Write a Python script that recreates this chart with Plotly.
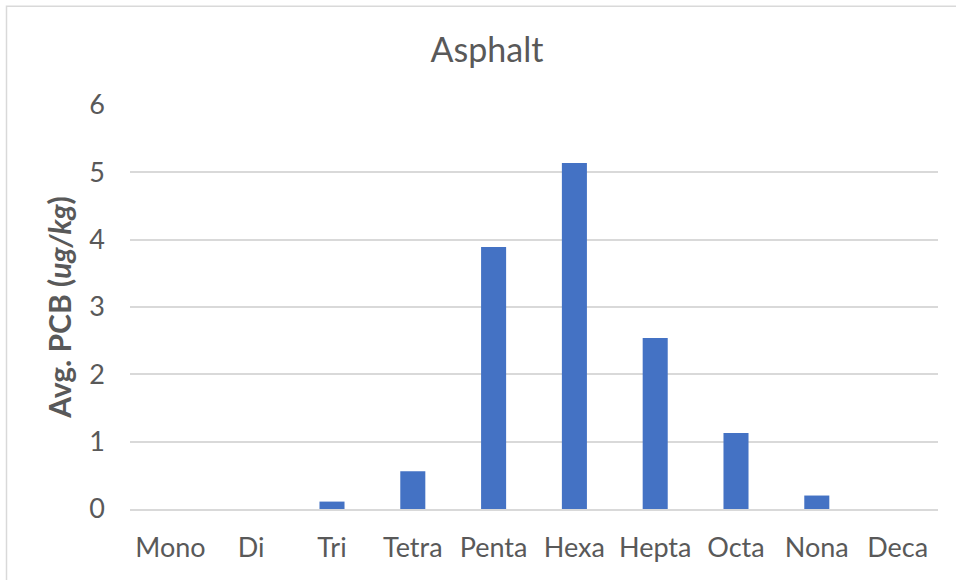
import plotly.graph_objects as go

categories = ["Mono", "Di", "Tri", "Tetra", "Penta", "Hexa", "Hepta", "Octa", "Nona", "Deca"]
avg_pcb = [0, 0, 0.11, 0.56, 3.89, 5.14, 2.54, 1.13, 0.20, 0]
y_ticks = [0, 1, 2, 3, 4, 5, 6]

W, H = 956, 580
L, R, T, B = 130, 18, 104.5, 70.5
pw, ph = W - L - R, H - T - B

def px(x):
    return (x - L) / pw

def py(y):
    return (H - B - y) / ph

text_color = "#595959"
grid_color = "#D9D9D9"
font_family = "Lato, Carlito, Calibri, sans-serif"

fig = go.Figure(
    go.Bar(
        x=categories,
        y=avg_pcb,
        marker=dict(color="#4472C4", line=dict(width=0)),
        hoverinfo="x+y",
    )
)

fig.update_layout(
    width=W,
    height=H,
    margin=dict(l=L, r=R, t=T, b=B, autoexpand=False),
    paper_bgcolor="white",
    plot_bgcolor="white",
    bargap=0.69,
    showlegend=False,
    font=dict(family=font_family, color=text_color),
    title=dict(
        text="Asphalt",
        x=487 / W,
        xanchor="center",
        y=1 - 50 / H,
        yanchor="middle",
        font=dict(size=34, color=text_color, family=font_family),
    ),
    xaxis=dict(
        showgrid=False,
        showline=True,
        linecolor=grid_color,
        linewidth=1.5,
        ticks="",
        tickfont=dict(size=27, color=text_color),
        ticklabelstandoff=14,
    ),
    yaxis=dict(
        range=[0, 6],
        tickvals=y_ticks,
        showgrid=True,
        gridcolor=grid_color,
        gridwidth=1.5,
        zeroline=False,
        showline=False,
        ticks="",
        tickfont=dict(size=27, color=text_color),
        ticklabelstandoff=24,
        title=dict(
            text="<b>Avg. PCB (<i>ug/kg</i>)</b>",
            font=dict(size=30, color=text_color),
            standoff=8,
        ),
    ),
    shapes=[
        dict(
            type="rect",
            xref="paper",
            yref="paper",
            x0=px(6.5),
            x1=px(W + 20),
            y0=py(H + 20),
            y1=py(5.5),
            line=dict(color=grid_color, width=1.5),
            fillcolor="rgba(0,0,0,0)",
            layer="below",
        )
    ],
)

fig.write_html(
    "out.html",
    config={"displayModeBar": False},
    post_script="document.body.style.margin='0';document.body.style.overflow='hidden';",
)
